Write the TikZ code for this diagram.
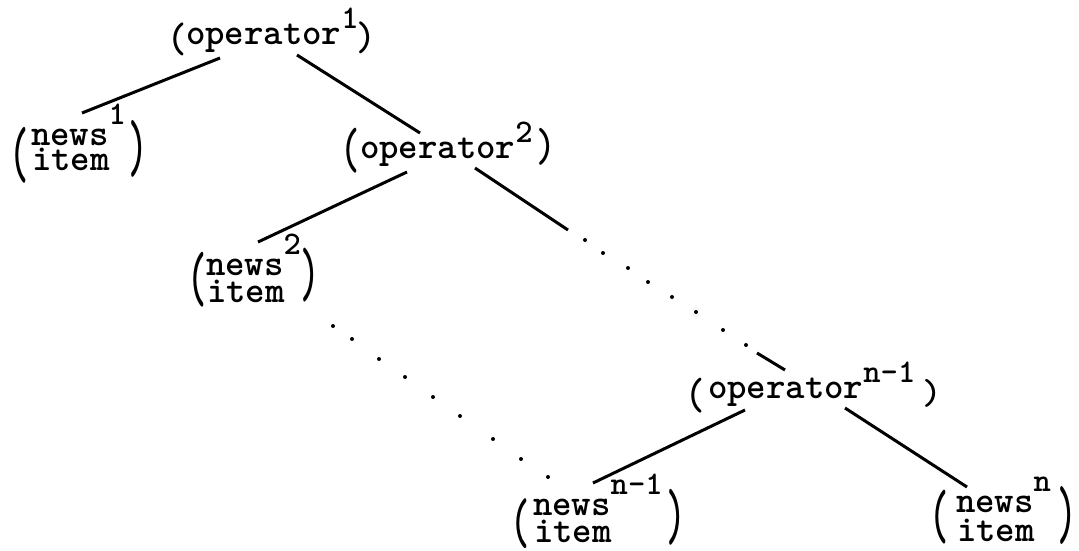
\documentclass[tikz,border=0pt]{standalone}
\usepackage{fontspec}
\setmonofont{lmmonolt10-bold.otf}
\usepackage{graphicx}
\newcommand\supop[1]{\raisebox{16pt}{\fontsize{33}{33}\selectfont #1}}
\newcommand\supnw[1]{\raisebox{21pt}{\fontsize{33}{33}\selectfont #1}}
\newcommand\pp[2]{\resizebox*{\width}{#1pt}{#2}}
\newcommand\leaf[2]{\vtop{\baselineskip=#2pt\lineskiplimit=-100pt\lineskip=0pt\hbox{news\supnw{#1}}\hbox{\kern1pt item}}}
\begin{document}
\begin{tikzpicture}[x=1pt,y=-1pt,
  txt/.style={inner sep=0pt, outer sep=0pt, anchor=base west, font=\ttfamily\fontsize{37}{37}\selectfont},
  par/.style={inner sep=0pt, outer sep=0pt, anchor=center, font=\ttfamily\fontsize{37}{37}\selectfont},
  edge/.style={line width=3pt},
  tdot/.style={fill=black}]
\useasboundingbox (0,0) rectangle (1079,551);

% operators
\node[txt] (op1) at (186,45) {operator\supop{1}};
\node[par] (op1l) at (177.5,39) {\pp{33}{(}};
\node[par] (op1r) at (366.5,37.5) {\pp{32}{)}};

\node[txt] (op2) at (360,158) {operator\supop{2}};
\node[par] (op2l) at (350,150.5) {\pp{45}{(}};
\node[par] (op2r) at (546,146.5) {\pp{37}{)}};

\node[txt] (op3) at (708,398) {operator\supop{n-1}};
\node[par] (op3l) at (695,395.5) {\pp{35}{(}};
\node[par] (op3r) at (932,393.5) {\pp{28}{)}};

% leaves
\node[txt] (n1) at (31,145) {\leaf{1}{25}};
\node[par] (n1l) at (19,155) {\pp{56}{(}};
\node[par] (n1r) at (138.5,148.5) {\pp{57}{)}};

\node[txt] (n2) at (206,275) {\leaf{2}{27}};
\node[par] (n2l) at (197,279.5) {\pp{55}{(}};
\node[par] (n2r) at (310,275) {\pp{54}{)}};

\node[txt] (n3) at (533,515) {\leaf{n-1}{27}};
\node[par] (n3l) at (520,523.5) {\pp{50}{(}};
\node[par] (n3r) at (676,517) {\pp{56}{)}};

\node[txt] (n4) at (956,512) {\leaf{n}{29}};
\node[par] (n4l) at (939,517) {\pp{54}{(}};
\node[par] (n4r) at (1067,516) {\pp{58}{)}};

% connectors
\draw[edge] ([shift={(34,13)}]op1.base west) -- ([shift={(51,-32)}]n1.base west);
\draw[edge] ([shift={(111,10)}]op1.base west) -- ([shift={(60,-25)}]op2.base west);
\draw[edge] ([shift={(47,14)}]op2.base west) -- ([shift={(52,-33)}]n2.base west);
\coordinate (rdA) at (568,230);
\coordinate (rdB) at (757,353);
\draw[edge] ([shift={(115,10)}]op2.base west) -- (rdA);
\draw[edge] (rdB) -- ([shift={(77,-28)}]op3.base west);
\draw[edge] ([shift={(37,12)}]op3.base west) -- ([shift={(60,-32)}]n3.base west);
\draw[edge] ([shift={(137,10)}]op3.base west) -- ([shift={(11,-25)}]n4.base west);

% dotted continuations
\foreach \p in {(585,240),(603,253),(628,268),(648,282),(672,297),(696,312),(723,330),(746,345)}
  \fill[tdot] \p circle (2);
\foreach \p in {(333,326),(352,339),(379,359),(405,377),(433,397),(460,416),(493,439),(521,459),(548,477)}
  \fill[tdot] \p circle (2);
\end{tikzpicture}
\end{document}
